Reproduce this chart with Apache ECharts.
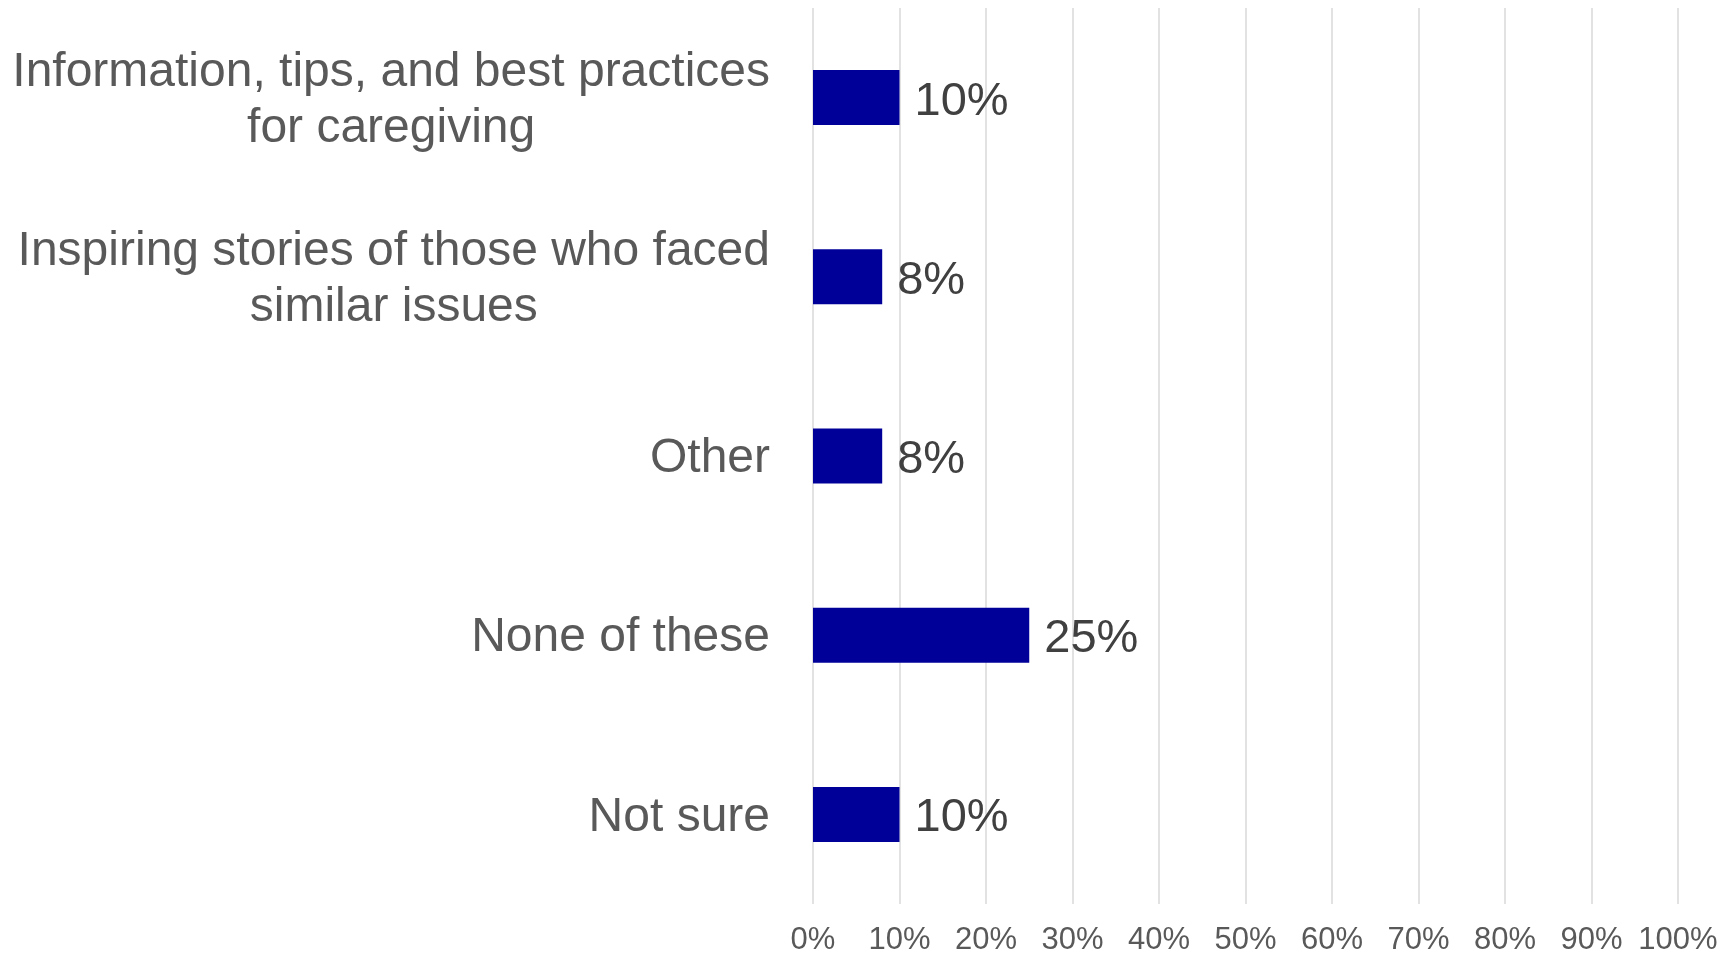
<!DOCTYPE html>
<html>
<head>
<meta charset="utf-8">
<script src="https://cdn.jsdelivr.net/npm/echarts@6/dist/echarts.min.js"></script>
<style>
    html, body { margin: 0; padding: 0; background: #fff; }
    #chart { width: 1736px; height: 956px; }
</style>
</head>
<body>
<div id="chart"></div>
<script>
// 数据
const categories = [
    'Information, tips, and best practices\nfor caregiving',
    'Inspiring stories of those who faced\nsimilar issues',
    'Other',
    'None of these',
    'Not sure'
];
const values = [10, 8, 8, 25, 10];
const tickLabels = ['0%', '10%', '20%', '30%', '40%', '50%', '60%', '70%', '80%', '90%', '100%'];

const chart = echarts.init(document.getElementById('chart'));

// 多行标签每行居中, 整体右对齐
const centerLines = (text) => text.split('\n').map(s => `{c|${s}}`).join('\n');

chart.setOption({
    animation: false,
    textStyle: { fontFamily: 'Liberation Sans, Arial, sans-serif' },
    grid: {
        left: 813,
        right: 58,
        top: 8,
        bottom: 52
    },
    xAxis: {
        type: 'value',
        min: 0,
        max: 100,
        interval: 10,
        axisLine: { show: false },
        axisTick: { show: false },
        axisLabel: {
            color: '#595959',
            fontSize: 31,
            margin: 21,
            formatter: (v) => tickLabels[Math.round(v / 10)]
        },
        splitLine: { lineStyle: { color: '#d9d9d9', width: 1.5 } }
    },
    yAxis: {
        type: 'category',
        inverse: true,
        data: categories,
        axisLine: { show: false },
        axisTick: { show: false },
        axisLabel: {
            color: '#595959',
            fontSize: 48,
            lineHeight: 56,
            margin: 43,
            align: 'right',
            padding: [6, 0, 0, 0],
            formatter: centerLines,
            rich: {
                c: {
                    color: '#595959',
                    fontSize: 48,
                    lineHeight: 56,
                    align: 'center'
                }
            }
        }
    },
    series: [{
        type: 'bar',
        data: values,
        barWidth: 55,
        itemStyle: { color: '#000099' },
        label: {
            show: true,
            position: 'right',
            distance: 15,
            offset: [0, 4],
            color: '#404040',
            fontSize: 47,
            formatter: '{c}%'
        }
    }]
});
</script>
</body>
</html>
